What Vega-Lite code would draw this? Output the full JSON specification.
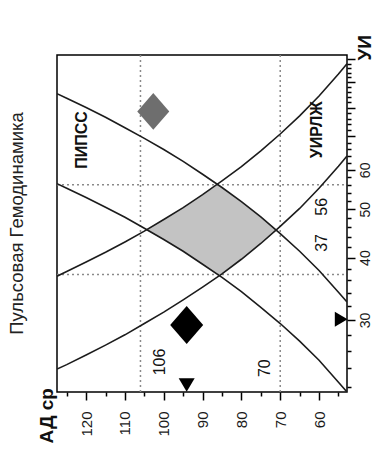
{
  "$schema": "https://vega.github.io/schema/vega-lite/v6.json",
  "autosize": {"type": "none"},
  "padding": {"left": 57, "top": 55, "right": 26, "bottom": 65},
  "width": 290,
  "height": 337,
  "background": "white",
  "title": {"text": "Пульсовая Гемодинамика", "orient": "left", "anchor": "middle", "offset": 11, "dx": 0, "fontSize": 18.5, "fontWeight": "normal", "font": "Liberation Sans", "color": "#222"},
  "config": {
    "view": {"stroke": "#000", "strokeWidth": 1.5},
    "font": "Liberation Sans"
  },
  "datasets": {
    "curves": [
      {"curve": "P1", "A": 127.5, "U": 85.3}, {"curve": "P1", "A": 125, "U": 83.5}, {"curve": "P1", "A": 120, "U": 80.0}, {"curve": "P1", "A": 115, "U": 76.5}, {"curve": "P1", "A": 110, "U": 72.9}, {"curve": "P1", "A": 105, "U": 69.4}, {"curve": "P1", "A": 100, "U": 65.9}, {"curve": "P1", "A": 95, "U": 62.4}, {"curve": "P1", "A": 90, "U": 58.8}, {"curve": "P1", "A": 85, "U": 55.3}, {"curve": "P1", "A": 80, "U": 51.8}, {"curve": "P1", "A": 75, "U": 48.3}, {"curve": "P1", "A": 70, "U": 44.7}, {"curve": "P1", "A": 65, "U": 41.2}, {"curve": "P1", "A": 60, "U": 37.7}, {"curve": "P1", "A": 55, "U": 34.1}, {"curve": "P1", "A": 52.8, "U": 32.6},
      {"curve": "P2", "A": 127.5, "U": 56.3}, {"curve": "P2", "A": 125, "U": 55.1}, {"curve": "P2", "A": 120, "U": 52.8}, {"curve": "P2", "A": 115, "U": 50.5}, {"curve": "P2", "A": 110, "U": 48.2}, {"curve": "P2", "A": 105, "U": 45.8}, {"curve": "P2", "A": 100, "U": 43.5}, {"curve": "P2", "A": 95, "U": 41.2}, {"curve": "P2", "A": 90, "U": 38.8}, {"curve": "P2", "A": 85, "U": 36.5}, {"curve": "P2", "A": 80, "U": 34.2}, {"curve": "P2", "A": 75, "U": 31.8}, {"curve": "P2", "A": 70, "U": 29.5}, {"curve": "P2", "A": 65, "U": 27.2}, {"curve": "P2", "A": 60, "U": 24.9}, {"curve": "P2", "A": 55, "U": 22.5}, {"curve": "P2", "A": 52.8, "U": 21.5},
      {"curve": "U1", "A": 127.5, "U": 36.7}, {"curve": "U1", "A": 125, "U": 37.5}, {"curve": "U1", "A": 120, "U": 39.2}, {"curve": "U1", "A": 115, "U": 41.0}, {"curve": "U1", "A": 110, "U": 43.0}, {"curve": "U1", "A": 105, "U": 45.2}, {"curve": "U1", "A": 100, "U": 47.7}, {"curve": "U1", "A": 95, "U": 50.4}, {"curve": "U1", "A": 90, "U": 53.5}, {"curve": "U1", "A": 85, "U": 57.0}, {"curve": "U1", "A": 80, "U": 60.9}, {"curve": "U1", "A": 75, "U": 65.5}, {"curve": "U1", "A": 70, "U": 70.8}, {"curve": "U1", "A": 65, "U": 77.0}, {"curve": "U1", "A": 60, "U": 84.4}, {"curve": "U1", "A": 55, "U": 93.4}, {"curve": "U1", "A": 52.8, "U": 98.0},
      {"curve": "U2", "A": 127.5, "U": 23.9}, {"curve": "U2", "A": 125, "U": 24.4}, {"curve": "U2", "A": 120, "U": 25.5}, {"curve": "U2", "A": 115, "U": 26.7}, {"curve": "U2", "A": 110, "U": 28.0}, {"curve": "U2", "A": 105, "U": 29.5}, {"curve": "U2", "A": 100, "U": 31.1}, {"curve": "U2", "A": 95, "U": 32.9}, {"curve": "U2", "A": 90, "U": 34.9}, {"curve": "U2", "A": 85, "U": 37.1}, {"curve": "U2", "A": 80, "U": 39.7}, {"curve": "U2", "A": 75, "U": 42.7}, {"curve": "U2", "A": 70, "U": 46.2}, {"curve": "U2", "A": 65, "U": 50.2}, {"curve": "U2", "A": 60, "U": 55.1}, {"curve": "U2", "A": 55, "U": 61.0}, {"curve": "U2", "A": 52.8, "U": 64.0}
    ],
    "zone": [
      {"A": 104.8, "U": 45.5, "hi": 45.5},
      {"A": 100, "U": 43.5, "hi": 47.7},
      {"A": 95, "U": 41.2, "hi": 50.4},
      {"A": 90, "U": 38.8, "hi": 53.5},
      {"A": 86, "U": 37.0, "hi": 56.0},
      {"A": 85, "U": 37.1, "hi": 55.3},
      {"A": 80, "U": 39.7, "hi": 51.8},
      {"A": 75, "U": 42.7, "hi": 48.3},
      {"A": 70.9, "U": 45.4, "hi": 45.4}
    ]
  },
  "encoding": {
    "x": {
      "field": "A", "type": "quantitative",
      "scale": {"domain": [52.8, 127.5], "reverse": true, "nice": false, "zero": false},
      "axis": {
        "orient": "bottom", "title": "АД ср",
        "values": [55, 60, 65, 70, 75, 80, 85, 90, 95, 100, 105, 110, 115, 120, 125],
        "labelExpr": "datum.value % 10 === 0 ? datum.label : ''",
        "labelAngle": -90, "labelAlign": "right", "labelBaseline": "middle",
        "labelFontSize": 15, "labelFont": "Liberation Sans", "labelColor": "#1a1a1a",
        "labelPadding": 11, "labelOverlap": false, "labelFlush": false,
        "tickSize": {"condition": {"test": "datum.value % 10 === 0", "value": 8}, "value": 4},
        "tickColor": "#000", "tickWidth": 1.5,
        "domain": false, "grid": false,
        "titleAngle": -90, "titleX": -11, "titleY": 51, "titleAlign": "left", "titleBaseline": "middle",
        "titleFontSize": 19, "titleFontWeight": "bold", "titleFont": "Liberation Sans", "titleColor": "#111"
      }
    },
    "y": {
      "field": "U", "type": "quantitative",
      "scale": {"type": "log", "domain": [21.5, 102], "nice": false, "zero": false},
      "axis": {
        "orient": "right", "title": "УИ",
        "values": [22, 24, 26, 28, 30, 32, 34, 36, 38, 40, 42, 44, 46, 48, 50, 52, 54, 56, 58, 60, 62, 64, 66, 68, 70, 72, 74, 76, 78, 80, 82, 84, 86, 88, 90, 92, 94, 96, 98, 100],
        "labelExpr": "(datum.value === 30 || datum.value === 40 || datum.value === 50 || datum.value === 60) ? datum.label : ''",
        "labelAngle": -90, "labelAlign": "center", "labelBaseline": "top",
        "labelFontSize": 14, "labelFont": "Liberation Sans", "labelColor": "#1a1a1a",
        "labelPadding": 3, "labelOverlap": false, "labelFlush": false,
        "tickSize": {"condition": {"test": "datum.value % 10 === 0", "value": 8}, "value": 4},
        "tickColor": "#000", "tickWidth": 1.5,
        "domain": false, "grid": false,
        "titleAngle": -90, "titleX": 17, "titleY": 5, "titleAlign": "left", "titleBaseline": "middle",
        "titleFontSize": 19, "titleFontWeight": "bold", "titleFont": "Liberation Sans", "titleColor": "#111"
      }
    }
  },
  "layer": [
    {
      "data": {"name": "zone"},
      "mark": {"type": "area", "color": "#c3c3c3", "opacity": 1},
      "encoding": {"y2": {"field": "hi"}}
    },
    {
      "data": {"values": [{"A": 106, "U": 21.5, "U2": 102}, {"A": 70, "U": 21.5, "U2": 102}]},
      "mark": {"type": "rule", "color": "#8a8a8a", "strokeWidth": 1.5, "strokeDash": [2, 3]},
      "encoding": {"y2": {"field": "U2"}}
    },
    {
      "data": {"values": [{"U": 56, "A": 127.5, "A2": 52.8}, {"U": 37, "A": 127.5, "A2": 52.8}]},
      "mark": {"type": "rule", "color": "#8a8a8a", "strokeWidth": 1.5, "strokeDash": [2, 3]},
      "encoding": {"x2": {"field": "A2"}}
    },
    {
      "data": {"name": "curves"},
      "mark": {"type": "line", "color": "#1c1c1c", "strokeWidth": 1.6, "clip": true},
      "encoding": {"detail": {"field": "curve"}}
    },
    {
      "data": {"values": [{"A": 102.7, "U": 78.6}]},
      "mark": {"type": "point", "shape": "M-1,0L0,-1.15L1,0L0,1.15Z", "size": 1024, "filled": true, "color": "#6e6e6e", "opacity": 1, "strokeWidth": 0}
    },
    {
      "data": {"values": [{"A": 94.1, "U": 29.3}]},
      "mark": {"type": "point", "shape": "M-1,0L0,-1.15L1,0L0,1.15Z", "size": 1089, "filled": true, "color": "#000", "opacity": 1, "strokeWidth": 0}
    },
    {
      "data": {"values": [{"A": 94.1, "U": 22.2}]},
      "mark": {"type": "point", "shape": "M-1,-0.85L1,-0.85L0,0.85Z", "size": 256, "filled": true, "color": "#000", "opacity": 1, "strokeWidth": 0}
    },
    {
      "data": {"values": [{"A": 54.3, "U": 30.1}]},
      "mark": {"type": "point", "shape": "M-0.85,-1L0.85,0L-0.85,1Z", "size": 225, "filled": true, "color": "#000", "opacity": 1, "strokeWidth": 0}
    },
    {
      "data": {"values": [{"label": "ПИПСС", "A": 121.0, "U": 68.9}, {"label": "УИРЛЖ", "A": 60.5, "U": 72.2}]},
      "mark": {"type": "text", "angle": 270, "align": "center", "baseline": "middle", "fontSize": 16, "fontWeight": "bold", "font": "Liberation Sans", "color": "#111"},
      "encoding": {"text": {"field": "label"}}
    },
    {
      "data": {"values": [{"label": "56", "A": 59.2, "U": 50.6}, {"label": "37", "A": 59.2, "U": 42.8}, {"label": "106", "A": 100.9, "U": 24.7}, {"label": "70", "A": 73.9, "U": 24.0}]},
      "mark": {"type": "text", "angle": 270, "align": "center", "baseline": "middle", "fontSize": 16, "font": "Liberation Sans", "color": "#111"},
      "encoding": {"text": {"field": "label"}}
    }
  ]
}
